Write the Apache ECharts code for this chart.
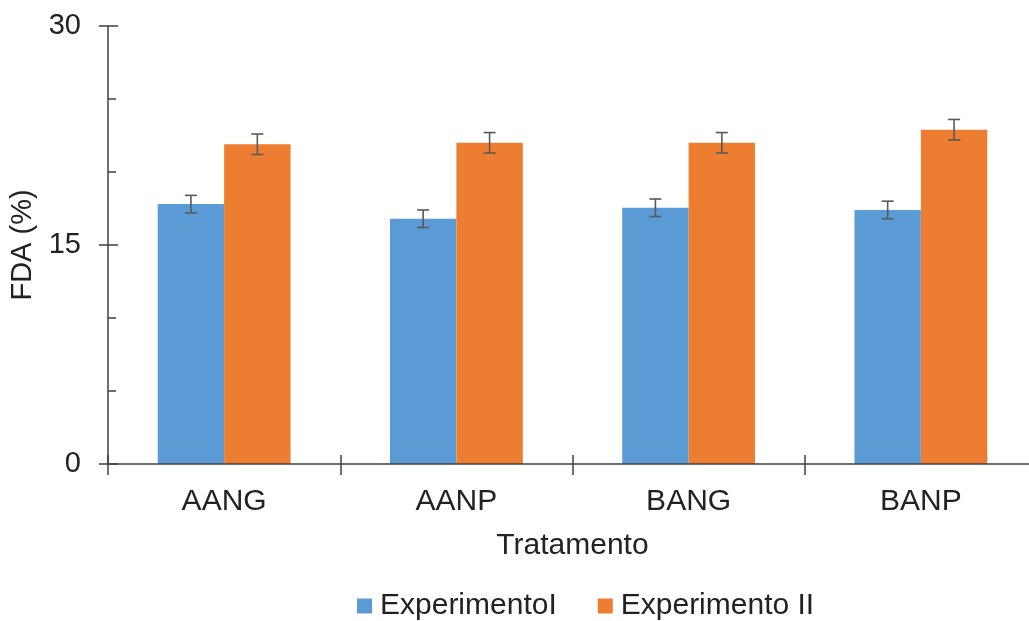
<!DOCTYPE html>
<html>
<head>
<meta charset="utf-8">
<script src="https://cdn.jsdelivr.net/npm/echarts@6/dist/echarts.min.js"></script>
<style>html,body{margin:0;padding:0;background:#fff}#c{width:1029px;height:621px}</style>
</head>
<body>
<div id="c"></div>
<script>
const categories = ['AANG', 'AANP', 'BANG', 'BANP'];
const seriesNames = ['ExperimentoI', 'Experimento II'];
const exp1 = [17.8, 16.8, 17.55, 17.4];
const exp1Err = [0.6, 0.6, 0.6, 0.6];
const exp2 = [21.9, 22.0, 22.0, 22.9];
const exp2Err = [0.7, 0.7, 0.7, 0.7];
const yTicks = [0, 15, 30];

const FONT = 'Liberation Sans, Arial, sans-serif';
const AXIS = '#404040';
const BAR_FRAC = 0.286;

function errData(vals, errs) {
  return vals.map((v, i) => [i, v - errs[i], v + errs[i]]);
}
function errSeries(vals, errs, side) {
  return {
    type: 'custom',
    xAxisIndex: 0, yAxisIndex: 0,
    z: 5,
    silent: true,
    data: errData(vals, errs),
    renderItem: function (params, api) {
      const band = api.size([1, 0])[0];
      const off = side * band * BAR_FRAC / 2;
      const lo = api.coord([api.value(0), api.value(1)]);
      const hi = api.coord([api.value(0), api.value(2)]);
      const x = lo[0] + off;
      const cap = 6;
      const st = { stroke: '#595959', lineWidth: 1.6 };
      return {
        type: 'group',
        children: [
          { type: 'line', shape: { x1: x, y1: lo[1], x2: x, y2: hi[1] }, style: st },
          { type: 'line', shape: { x1: x - cap, y1: lo[1], x2: x + cap, y2: lo[1] }, style: st },
          { type: 'line', shape: { x1: x - cap, y1: hi[1], x2: x + cap, y2: hi[1] }, style: st }
        ]
      };
    }
  };
}

const chart = echarts.init(document.getElementById('c'), null, { renderer: 'canvas' });
chart.setOption({
  animation: false,
  backgroundColor: '#ffffff',
  grid: { left: 108, width: 929, top: 26, height: 438, containLabel: false, outerBoundsMode: 'none' },
  legend: {
    data: seriesNames,
    left: 357, top: 591, padding: 0,
    icon: 'rect', itemWidth: 15, itemHeight: 15, itemGap: 41,
    textStyle: { fontFamily: FONT, fontSize: 30, color: '#222', padding: [0, 0, 0, 3] }
  },
  xAxis: [
    {
      type: 'category', data: categories, position: 'bottom', z: 10,
      name: 'Tratamento', nameLocation: 'middle', nameGap: 67,
      nameTextStyle: { fontFamily: FONT, fontSize: 30, color: '#222' },
      axisLine: { show: true, lineStyle: { color: AXIS, width: 1.5 } },
      axisTick: { show: true, alignWithLabel: false, length: 11, lineStyle: { color: AXIS, width: 1.5 } },
      axisLabel: { fontFamily: FONT, fontSize: 30, color: '#222', margin: 23 },
      splitLine: { show: false }
    },
    {
      type: 'category', data: categories, position: 'bottom', z: 10,
      axisLine: { show: false },
      axisTick: { show: true, inside: true, alignWithLabel: false, length: 9, lineStyle: { color: AXIS, width: 1.5 } },
      axisLabel: { show: false },
      splitLine: { show: false }
    }
  ],
  yAxis: [
    {
      type: 'value', min: 0, max: 30, interval: 15, position: 'left', z: 10,
      name: 'FDA (%)', nameLocation: 'middle', nameGap: 56, nameRotate: 90,
      nameTextStyle: { fontFamily: FONT, fontSize: 29, color: '#222' },
      axisLine: { show: true, lineStyle: { color: AXIS, width: 1.5 } },
      axisTick: { show: true, length: 9, lineStyle: { color: AXIS, width: 1.5 } },
      axisLabel: {
        fontFamily: FONT, fontSize: 29, color: '#222', margin: 27,
        formatter: v => (yTicks.indexOf(v) >= 0 ? String(v) : '')
      },
      splitLine: { show: false }
    },
    {
      type: 'value', min: 0, max: 30, interval: 15, position: 'left', z: 10,
      axisLine: { show: false },
      axisTick: { show: true, inside: true, length: 10, lineStyle: { color: AXIS, width: 1.5 } },
      minorTick: { show: true, splitNumber: 3, length: 8, lineStyle: { color: AXIS, width: 1.5 } },
      axisLabel: { show: false },
      splitLine: { show: false }
    }
  ],
  series: [
    {
      name: seriesNames[0], type: 'bar', xAxisIndex: 0, yAxisIndex: 0,
      data: exp1, barWidth: (BAR_FRAC * 100) + '%', barGap: '0%',
      itemStyle: { color: '#5B9BD5' }
    },
    {
      name: seriesNames[1], type: 'bar', xAxisIndex: 0, yAxisIndex: 0,
      data: exp2, barWidth: (BAR_FRAC * 100) + '%', barGap: '0%',
      itemStyle: { color: '#ED7D31' }
    },
    errSeries(exp1, exp1Err, -1),
    errSeries(exp2, exp2Err, 1)
  ]
});
</script>
</body>
</html>
